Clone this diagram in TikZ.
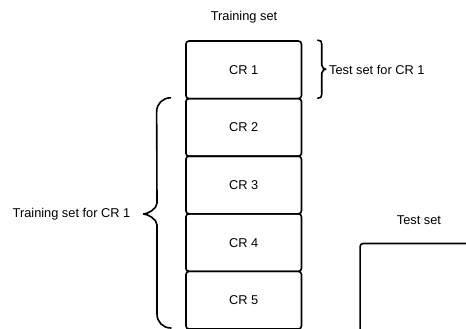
\documentclass[tikz,border=0pt]{standalone}
\usepackage{fontspec}
\setmainfont{Liberation Sans}
\usetikzlibrary{calc}
\begin{document}
\begin{tikzpicture}[x=1pt,y=-1pt,
  every node/.style={font=\fontsize{12.8}{15}\selectfont, inner sep=0pt},
  crbox/.style={draw, line width=1.6pt, rounded corners=3pt,
    minimum width=115.5pt, minimum height=57.6pt},
  bracepath/.style={draw, line width=1.6pt, line cap=round, line join=round}]
\useasboundingbox (0,0) rectangle (466,329);
\clip (0,0) rectangle (466,329);

% five folds stacked
\foreach \k in {1,...,5}{
  \node[crbox] (cr\k) at (243.7, {41+28.8+57.6*(\k-1)}) {CR \k};
}

\node (trainhead) at (244,17) {Training set};

% brace on the first fold
\path[bracepath] ($(cr1.north east)+(15.5,0)$)
  .. controls +(3,0) and +(0,-3) .. ++(4,4)
  -- ++(0,21)
  .. controls +(0,3) and +(-1,0) .. ++(4,4)
  .. controls +(-1,0) and +(0,-3) .. ++(-4,4)
  -- ++(0,21)
  .. controls +(0,3) and +(3,0) .. ++(-4,4);
\node[anchor=west] (testcr) at (329,70) {Test set for CR 1};

% brace on the remaining folds
\path[bracepath] ($(cr2.north west)+(-14.5,0)$)
  .. controls +(-8,0) and +(0,-8) .. ++(-14,14)
  -- (157,203)
  .. controls +(0,6) and +(4,0) .. (143.5,214)
  .. controls +(4,0) and +(0,-6) .. (157,225)
  -- (157,314)
  .. controls +(0,8) and +(-8,0) .. (171,328);
\node[anchor=east] (traincr) at (130.5,214) {Training set for CR 1};

% separate test set
\node (testhead) at (419,220) {Test set};
\node[crbox, anchor=north west, minimum width=140pt, minimum height=120pt]
  (testbox) at (359.3,242.7) {};
\end{tikzpicture}
\end{document}
